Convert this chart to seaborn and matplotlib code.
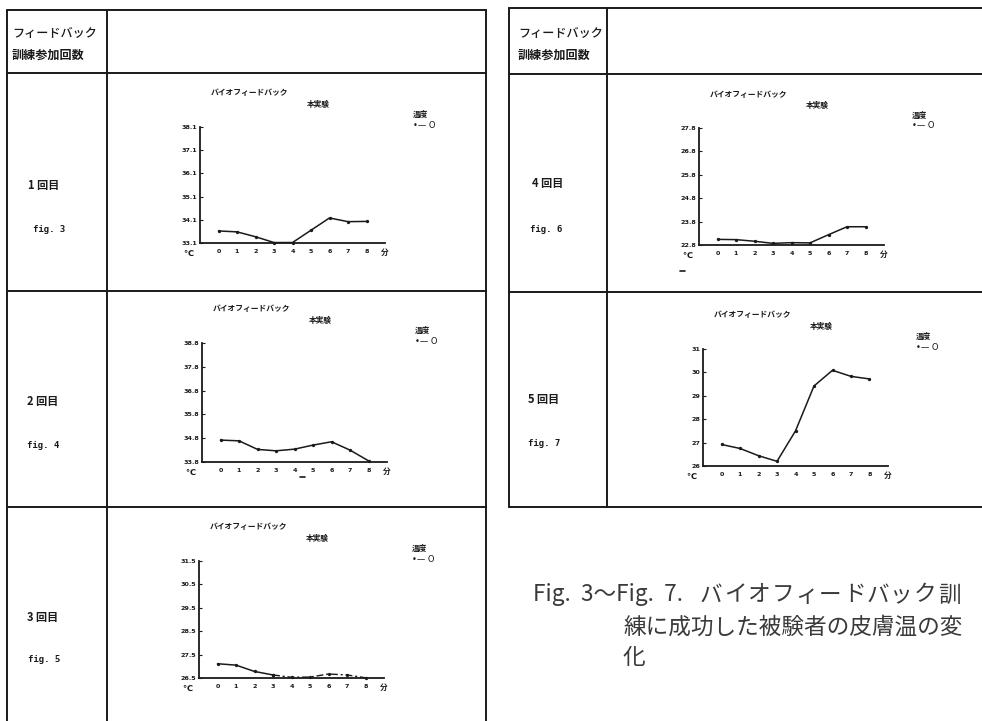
import numpy as np
import pandas as pd
import seaborn as sns
import matplotlib.pyplot as plt

W, H = 982, 721

# skin temperature (°C) per minute
minutes = [0, 1, 2, 3, 4, 5, 6, 7, 8]
xtick_labels = ['0', '1', '2', '3', '4', '5', '6', '7', '8']

temp_fig3 = [33.62, 33.58, 33.37, 33.12, 33.12, 33.65, 34.18, 34.02, 34.03]
temp_fig4 = [34.72, 34.69, 34.33, 34.27, 34.34, 34.51, 34.65, 34.30, 33.85]
temp_fig5 = [27.11, 27.05, 26.78, 26.63, 26.53, 26.54, 26.67, 26.63, 26.51]
temp_fig6 = [23.04, 23.03, 22.96, 22.87, 22.90, 22.89, 23.24, 23.58, 23.58]
temp_fig7 = [26.92, 26.75, 26.44, 26.20, 27.50, 29.42, 30.09, 29.83, 29.72]

yticks_fig3 = [33.1, 34.1, 35.1, 36.1, 37.1, 38.1]
yticks_fig4 = [33.8, 34.8, 35.8, 36.8, 37.8, 38.8]
yticks_fig5 = [26.5, 27.5, 28.5, 29.5, 30.5, 31.5]
yticks_fig6 = [22.8, 23.8, 24.8, 25.8, 26.8, 27.8]
yticks_fig7 = [26, 27, 28, 29, 30, 31]

ylabels_fig3 = ['33.1', '34.1', '35.1', '36.1', '37.1', '38.1']
ylabels_fig4 = ['33.8', '34.8', '35.8', '36.8', '37.8', '38.8']
ylabels_fig5 = ['26.5', '27.5', '28.5', '29.5', '30.5', '31.5']
ylabels_fig6 = ['22.8', '23.8', '24.8', '25.8', '26.8', '27.8']
ylabels_fig7 = ['26', '27', '28', '29', '30', '31']

session_labels = ['1 回目', '2 回目', '3 回目', '4 回目', '5 回目']
fig_labels = ['fig. 3', 'fig. 4', 'fig. 5', 'fig. 6', 'fig. 7']

sns.set_style('white')
plt.rcParams['font.family'] = ['Noto Sans CJK JP', 'DejaVu Sans']

fig = plt.figure(figsize=(W / 100, H / 100), dpi=100)

# background axes in pixel coordinates for the table frame and loose texts
bg = fig.add_axes([0, 0, 1, 1])
bg.set_xlim(0, W)
bg.set_ylim(H, 0)
bg.axis('off')

ink = '#1a1a1a'
lw = 1.4
# left table
for y in [10, 73, 291, 507]:
    bg.plot([7, 486], [y, y], color=ink, lw=lw)
for x in [7, 107, 486]:
    bg.plot([x, x], [10, 730], color=ink, lw=lw)
# right table (runs off the right edge)
for y in [8, 74, 292, 507]:
    bg.plot([509, 990], [y, y], color=ink, lw=lw)
for x in [509, 607]:
    bg.plot([x, x], [8, 507], color=ink, lw=lw)

for x0 in [12, 518]:
    bg.text(x0, 33, 'フィードバック', fontsize=8.7, color=ink, va='center', ha='left',
            fontweight='medium')
    bg.text(x0, 55, '訓練参加回数', fontsize=8.7, color=ink, va='center', ha='left',
            fontweight='bold')

label_pos = [(28, 185, 33, 230), (27, 402, 27, 445), (27, 617, 28, 660),
             (532, 183, 530, 230), (528, 400, 528, 443)]
for (sx, sy, fx, fy), s, f in zip(label_pos, session_labels, fig_labels):
    bg.text(sx, sy, s, fontsize=8, color=ink, va='center', ha='left', fontweight='bold')
    bg.text(fx, fy, f, fontsize=6.5, color=ink, va='center', ha='left',
            family='DejaVu Sans Mono', fontweight='bold')

cap = '#3a3a3a'
cap_size = 16.3
bg.text(533, 595, 'Fig.  3～Fig.  7.', fontsize=cap_size, color=cap,
        ha='left', va='center')
# the katakana of the first caption line are set with extra tracking
for k, ch in enumerate('バイオフィードバック訓'):
    bg.text(700 + k * 23.8, 595, ch, fontsize=cap_size, color=cap,
            ha='left', va='center')
bg.text(623, 627, '練に成功した被験者の皮膚温の変', fontsize=cap_size, color=cap,
        ha='left', va='center')
bg.text(623, 658, '化', fontsize=cap_size, color=cap, ha='left', va='center')

# panel placement: (axis left px, axis top px, axis bottom px)
panels = [
    (200, 127, 243, temp_fig3, yticks_fig3, ylabels_fig3),
    (202, 343, 462, temp_fig4, yticks_fig4, ylabels_fig4),
    (199, 561, 678, temp_fig5, yticks_fig5, ylabels_fig5),
    (699, 128, 245, temp_fig6, yticks_fig6, ylabels_fig6),
    (703, 349, 466, temp_fig7, yticks_fig7, ylabels_fig7),
]
axis_w = 185

for i, (left, top, bottom, temps, yt, yl) in enumerate(panels):
    ax = fig.add_axes([left / W, 1 - bottom / H, axis_w / W, (bottom - top) / H])
    ax.patch.set_alpha(0)
    df = pd.DataFrame({'minute': minutes, 'temp': temps})
    if i == 2:
        # later part of the fig.5 trace is drawn dashed in the original
        sns.lineplot(data=df.iloc[:4], x='minute', y='temp', ax=ax, color=ink,
                     linewidth=1.1, marker='o', markersize=2.4, markeredgewidth=0)
        sns.lineplot(data=df.iloc[3:], x='minute', y='temp', ax=ax, color=ink,
                     linewidth=1.0, marker='o', markersize=2.4, markeredgewidth=0,
                     linestyle=(0, (5, 2, 1.5, 2)))
    else:
        sns.lineplot(data=df, x='minute', y='temp', ax=ax, color=ink,
                     linewidth=1.1, marker='o', markersize=2.4, markeredgewidth=0)
    for ln in ax.lines:
        ln.set_clip_on(False)
    ax.set_xlim(-1, 9)
    ax.set_ylim(yt[0], yt[-1])
    ax.set_xticks(minutes)
    ax.set_xticklabels(xtick_labels, family='DejaVu Sans', fontweight='bold')
    ax.set_yticks(yt)
    ax.set_yticklabels(yl, family='DejaVu Sans', fontweight='bold')
    ax.tick_params(axis='x', length=0, pad=4, labelsize=4.6, colors=ink)
    ax.tick_params(axis='y', direction='in', length=2.5, width=0.8, pad=2,
                   labelsize=4.6, colors=ink, left=True)
    ax.set_xlabel('')
    ax.set_ylabel('')
    ax.grid(False)
    ax.spines[['top', 'right']].set_visible(False)
    for s in ['left', 'bottom']:
        ax.spines[s].set_color(ink)
        ax.spines[s].set_linewidth(1.3)

    bg.text(left + 11, top - 34, 'バイオフィードバック', fontsize=5.6, color=ink,
            fontweight='bold', style='italic', va='center', ha='left')
    bg.text(left + 107, top - 23, '本実験', fontsize=5.5, color=ink,
            fontweight='bold', va='center', ha='left')
    bg.text(left + 213, top - 13, '温度', fontsize=5.5, color=ink,
            fontweight='bold', va='center', ha='left')
    bg.text(left + 213, top - 2, '•— O', fontsize=6, color=ink,
            family='DejaVu Sans', va='center', ha='left')
    bg.text(left - 17, bottom + 10, '℃', fontsize=6, color=ink,
            family='DejaVu Sans', fontweight='bold', va='center', ha='left')
    bg.text(left + 181, bottom + 9, '分', fontsize=5.5, color=ink,
            fontweight='bold', va='center', ha='left')

# stray scan marks
bg.plot([300, 305], [477, 477], color=ink, lw=1.2)
bg.plot([680, 685], [271, 271], color=ink, lw=1.2)

fig.savefig('out.png', dpi=100, facecolor='white')
